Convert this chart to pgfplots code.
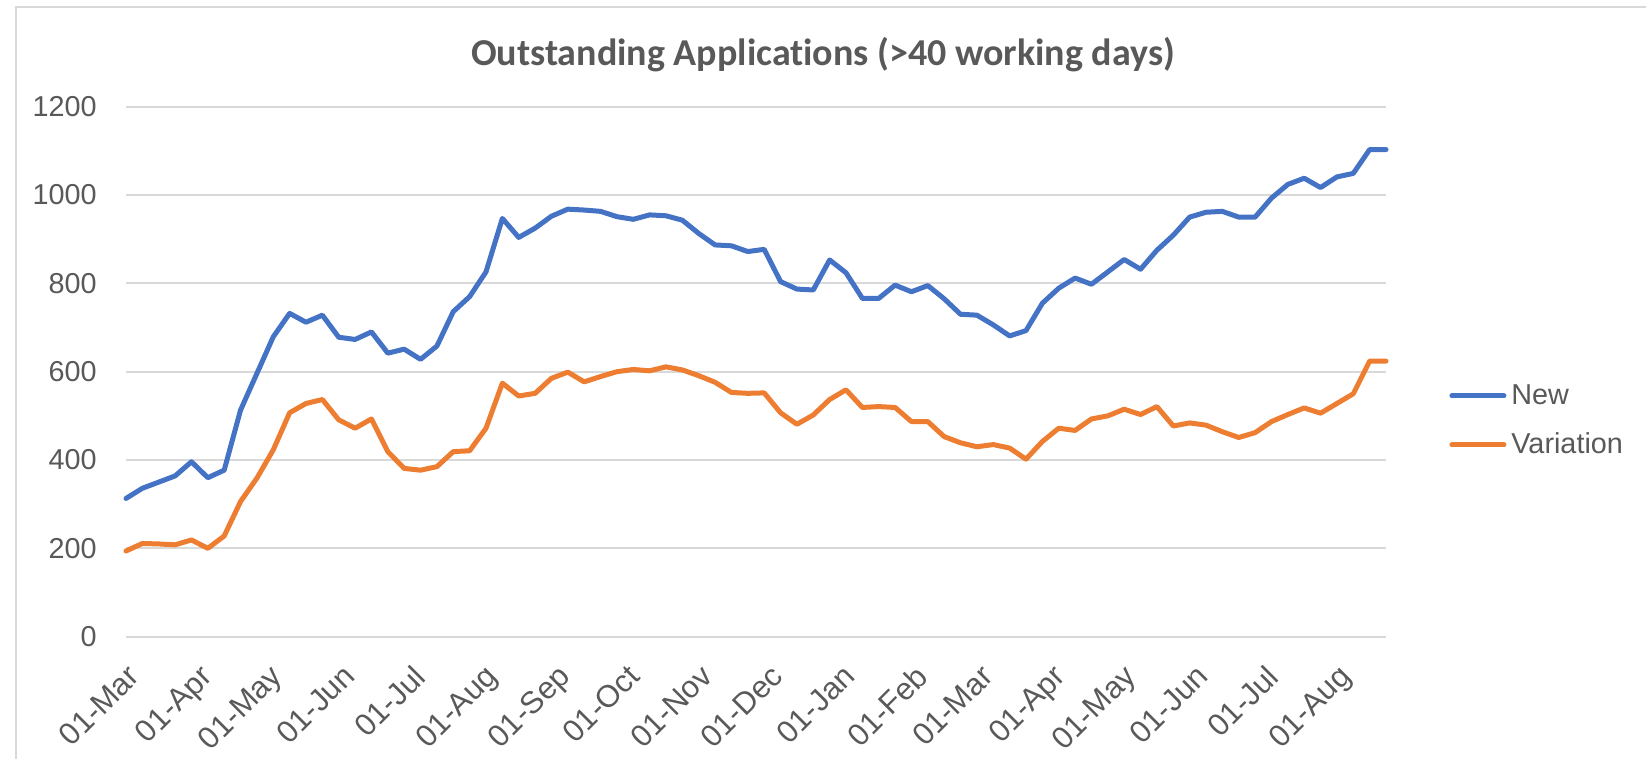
\documentclass[border=0pt]{standalone}
\usepackage{pgfplots}
\usepackage{pgfplotstable}
\pgfplotsset{compat=1.18}
\usepackage{fontspec}
\setmainfont{Liberation Sans}
\newfontfamily\titlefont[Ligatures={NoCommon,NoRequired,NoContextual}]{Carlito}
\definecolor{cblue}{HTML}{4472C4}
\definecolor{corange}{HTML}{ED7D31}
\definecolor{cgrid}{HTML}{D9D9D9}
\definecolor{ctext}{HTML}{595959}
\pgfplotstableread{
day new var
0 313 194
7 336 211
14 350 210
21 364 208
28 396 219
35 360 200
42 377 228
49 513 306
56 596 359
63 679 423
70 732 507
77 712 528
84 728 537
91 678 491
98 673 472
105 690 493
112 642 419
119 651 381
126 628 377
133 658 385
140 736 419
147 770 421
154 826 472
161 947 574
168 904 545
175 925 551
182 952 585
189 968 599
196 966 577
203 963 589
210 951 600
217 945 605
224 955 602
231 953 611
238 943 604
245 913 591
252 887 576
259 885 553
266 872 551
273 877 552
280 804 507
287 787 481
294 785 502
301 853 537
308 824 559
315 766 519
322 766 521
329 796 519
336 781 487
343 795 487
350 765 453
357 730 439
364 728 430
371 706 435
378 681 427
385 693 402
392 755 442
399 789 472
406 812 467
413 798 493
420 826 500
427 854 515
434 832 503
441 875 521
448 909 477
455 950 484
462 961 479
469 963 464
476 950 451
483 950 462
490 993 487
497 1024 503
504 1038 518
511 1017 506
518 1041 528
525 1049 550
532 1103 624
539 1103 624
}\datatable
\begin{document}
\begin{tikzpicture}
\useasboundingbox (0,0) rectangle (823pt,379.5pt);
\draw[cgrid, line width=1pt] (8pt,-10pt) -- (8pt,376pt) -- (840pt,376pt);
\node[text=ctext, font=\titlefont\bfseries\fontsize{19}{23}\selectfont] at (411.5pt,352pt) {Outstanding Applications (>40 working days)};
\begin{axis}[
  at={(63pt,61.15pt)}, anchor=south west,
  scale only axis, width=630pt, height=265pt,
  xmin=0, xmax=539, ymin=0, ymax=1200,
  axis line style={draw=none},
  major tick length=0pt,
  ymajorgrids, grid style={cgrid, line width=1pt},
  ytick={0,200,...,1200},
  yticklabel={\pgfmathprintnumber[1000 sep={}]{\tick}},
  xtick={0,31,61,92,122,153,184,214,245,275,306,337,365,396,426,457,487,518},
  xticklabels={01-Mar,01-Apr,01-May,01-Jun,01-Jul,01-Aug,01-Sep,01-Oct,01-Nov,01-Dec,01-Jan,01-Feb,01-Mar,01-Apr,01-May,01-Jun,01-Jul,01-Aug},
  /pgf/number format/assume math mode=true,
  /pgf/number format/1000 sep={},
  yticklabel style={anchor=east, inner sep=0pt, xshift=-14.5pt, text=ctext, font=\fontsize{14.4}{17}\selectfont},
  xticklabel style={rotate=45, anchor=north east, inner sep=0pt, text=ctext, font=\fontsize{15.5}{18}\selectfont},
  xticklabel shift=13pt,
  clip=false,
  legend style={at={(1.05,0.408)}, anchor=west, draw=none, fill=none, inner sep=0pt,
    nodes={inner sep=0pt, minimum height=24.5pt, text=ctext, font=\fontsize{14.4}{17}\selectfont},
    column sep=2.5pt, cells={anchor=west}},
  legend image code/.code={\draw[#1, line cap=round] (0pt,0pt) -- (26pt,0pt);},
]
\addplot[cblue, line width=2.5pt, line join=round, line cap=round] table[x=day, y=new] {\datatable};
\addlegendentry{New}
\addplot[corange, line width=2.5pt, line join=round, line cap=round] table[x=day, y=var] {\datatable};
\addlegendentry{Variation}
\end{axis}
\end{tikzpicture}
\end{document}
